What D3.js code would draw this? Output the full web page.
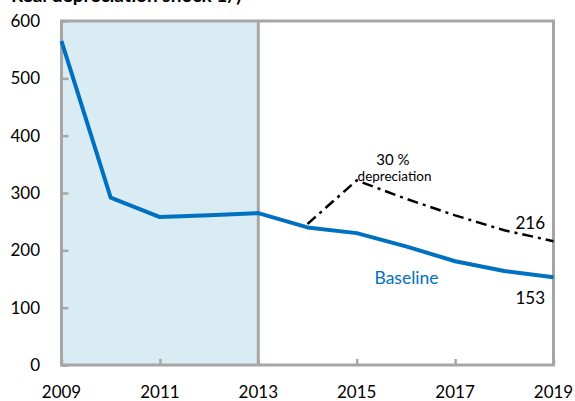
<!DOCTYPE html>
<html><head><meta charset="utf-8">
<script src="https://cdn.jsdelivr.net/npm/d3@7"></script>
<style>
body{margin:0;background:#fff;}
svg{display:block;font-family:Lato, "Open Sans", sans-serif;}
</style></head>
<body>
<svg id="c" width="575" height="401"></svg>
<script>
const years = [2009,2010,2011,2012,2013,2014,2015,2016,2017,2018,2019];
const baseline = [565,292,258,261,265,240,230,207,181,164,153];
const shockYears = [2014,2015,2016,2017,2018,2019];
const shock = [246,322,290,261,235,216];
const xTicks = [2009,2011,2013,2015,2017,2019];
const yTicks = [0,100,200,300,400,500,600];
const historyEnd = 2013;
const title = "Real depreciation shock 1/)";

const svg = d3.select("#c");
const L = 61.5, R = 553.5, T = 21, B = 365;
const x = d3.scaleLinear().domain([2009,2019]).range([L,R]);
const y = d3.scaleLinear().domain([0,600]).range([B,T]);
const grey = "#a6a6a6";

svg.append("text").attr("x",11).attr("y",2).attr("font-weight","bold")
  .attr("font-size",19).attr("fill","#000").text(title);

// shaded history
svg.append("rect").attr("x",x(2009)).attr("y",y(600)).attr("width",x(historyEnd)-x(2009))
  .attr("height",y(0)-y(600)).attr("fill","#daecf3");

// axes
const yAxis = d3.axisRight(y).tickValues(yTicks).tickSize(7).tickFormat("");
const gy = svg.append("g").attr("transform",`translate(${L},0)`).call(yAxis);
const xAxis = d3.axisTop(x).tickValues(xTicks).tickSize(6).tickFormat("");
const gx = svg.append("g").attr("transform",`translate(0,${B})`).call(xAxis);
[gy,gx].forEach(g=>{g.select(".domain").remove();g.selectAll("line").attr("stroke",grey).attr("stroke-width",2.5);});

// frame
svg.append("rect").attr("x",L).attr("y",T).attr("width",R-L).attr("height",B-T)
  .attr("fill","none").attr("stroke",grey).attr("stroke-width",3);
svg.append("line").attr("x1",x(historyEnd)).attr("x2",x(historyEnd)).attr("y1",T).attr("y2",B)
  .attr("stroke",grey).attr("stroke-width",3);

// tick labels
svg.append("g").selectAll("text").data(yTicks).join("text")
  .attr("x",40).attr("y",d=>y(d)).attr("dy","0.35em").attr("text-anchor","end")
  .attr("font-size",17).attr("fill","#000").text(d=>d);
svg.append("g").selectAll("text").data(xTicks).join("text")
  .attr("x",d=>x(d)).attr("y",398).attr("text-anchor","middle")
  .attr("font-size",17).attr("fill","#000").text(d=>d);

// lines
const line = d3.line().x(d=>x(d[0])).y(d=>y(d[1]));
svg.append("path").datum(shockYears.map((d,i)=>[d,shock[i]])).attr("d",line)
  .attr("fill","none").attr("stroke","#000").attr("stroke-width",2.5)
  .attr("stroke-dasharray","11,5,3,5");
svg.append("path").datum(years.map((d,i)=>[d,baseline[i]])).attr("d",line)
  .attr("fill","none").attr("stroke","#0070c0").attr("stroke-width",4)
  .attr("stroke-linejoin","round");

// annotations
svg.append("text").attr("x",393).attr("y",165).attr("text-anchor","middle")
  .attr("font-size",15).attr("fill","#000").text("30 %");
svg.append("text").attr("x",394.5).attr("y",181).attr("text-anchor","middle")
  .attr("font-size",13.5).attr("fill","#000").text("depreciation");
svg.append("text").attr("x",545).attr("y",229).attr("text-anchor","end")
  .attr("font-size",17).attr("fill","#000").text(shock[shock.length-1]);
svg.append("text").attr("x",545).attr("y",304).attr("text-anchor","end")
  .attr("font-size",17).attr("fill","#000").text(baseline[baseline.length-1]);
svg.append("text").attr("x",406.5).attr("y",284).attr("text-anchor","middle")
  .attr("font-size",17.5).attr("fill","#0070c0").text("Baseline");
</script>
</body></html>
